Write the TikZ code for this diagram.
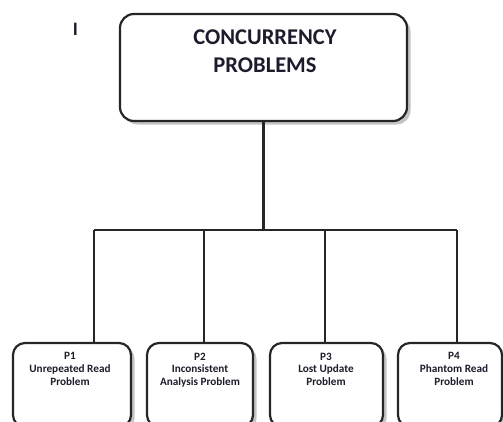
\documentclass[tikz,border=0pt]{standalone}
\usepackage{fontspec}
\setmainfont{Carlito}
\usetikzlibrary{shadows}
\definecolor{txt}{HTML}{1C1C2C}
\definecolor{shade}{HTML}{C4C4C4}
\tikzset{
  box/.style={draw=black!85, line width=2.2pt, fill=white, rounded corners=14pt,
    drop shadow={shadow xshift=3.5pt, shadow yshift=-3.5pt, fill=shade, opacity=1}},
  subbox/.style={box, rounded corners=12pt, minimum height=84pt},
  lbl/.style={text=txt, font=\bfseries\fontsize{11.2}{12.8}\selectfont, align=center, anchor=north, inner sep=0pt},
  conn/.style={draw=black!85, line width=2.2pt},
}
\begin{document}
\begin{tikzpicture}[x=1pt,y=-1pt]
\useasboundingbox (0,0) rectangle (503,421);
\clip (0,0) rectangle (503,421);
\node[text=txt, font=\bfseries\fontsize{19}{22}\selectfont, inner sep=0pt] (mark) at (75.5,29) {I};
\node[box, minimum width=287pt, minimum height=107pt] (top) at (263.5,67.5) {};
\node[text=txt, font=\bfseries\fontsize{22.5}{28}\selectfont, align=center, anchor=north, inner sep=0pt] (toptext) at (265,30) {CONCURRENCY\\PROBLEMS};
\node[subbox, minimum width=118pt] (p1) at (72,385) {};
\node[subbox, minimum width=106pt] (p2) at (200,385) {};
\node[subbox, minimum width=113pt] (p3) at (326.5,385) {};
\node[subbox, minimum width=104pt] (p4) at (450,385) {};
\node[lbl] (t1) at (70,352.5) {P1\\Unrepeated Read\\Problem};
\node[lbl] (t2) at (200,352.5) {P2\\Inconsistent\\Analysis Problem};
\node[lbl] (t3) at (326,352.5) {P3\\Lost Update\\Problem};
\node[lbl] (t4) at (454,352.5) {P4\\Phantom Read\\Problem};
\coordinate (b0) at (263.5,230);
\coordinate (b1) at (94,230);
\coordinate (b2) at (204,230);
\coordinate (b3) at (325,230);
\coordinate (b4) at (457,230);
\draw[conn] (top.south) -- (b0);
\draw[conn] (b1) -- (b4);
\draw[conn] (b1) -- (b1 |- p1.north);
\draw[conn] (b2) -- (b2 |- p2.north);
\draw[conn] (b3) -- (b3 |- p3.north);
\draw[conn] (b4) -- (b4 |- p4.north);
\end{tikzpicture}
\end{document}
